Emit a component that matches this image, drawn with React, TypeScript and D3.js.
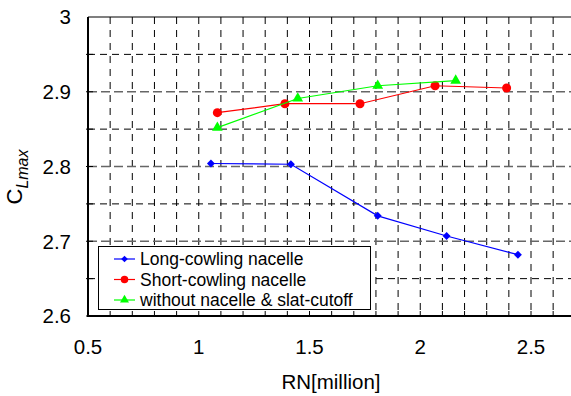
import React from "react";
import { scaleLinear, line, range, symbol, symbolDiamond2, symbolCircle, symbolTriangle } from "d3";

const longRN = [1.055, 1.416, 1.808, 2.119, 2.441];
const longCL = [2.804, 2.803, 2.734, 2.707, 2.682];
const shortRN = [1.084, 1.389, 1.728, 2.067, 2.39];
const shortCL = [2.872, 2.884, 2.884, 2.908, 2.905];
const noNacRN = [1.084, 1.447, 1.808, 2.16];
const noNacCL = [2.852, 2.891, 2.908, 2.915];

const xTicks = [0.5, 1, 1.5, 2, 2.5];
const yTicks = [2.6, 2.7, 2.8, 2.9, 3];

const series = [
  { name: "Long-cowling nacelle", x: longRN, y: longCL, color: "#0000ff", sym: symbolDiamond2, size: 40 },
  { name: "Short-cowling nacelle", x: shortRN, y: shortCL, color: "#ff0000", sym: symbolCircle, size: 64 },
  { name: "without nacelle & slat-cutoff", x: noNacRN, y: noNacCL, color: "#00ff00", sym: symbolTriangle, size: 50 },
];

const W = 571;
const H = 396;
const left = 88;
const top = 17;
const bottom = 316;

export default function App() {
  const x = scaleLinear().domain([0.5, 3]).range([left, left + 2.5 * 221.5]);
  const y = scaleLinear().domain([2.6, 3]).range([bottom, top]);
  const font = "Arial, 'Liberation Sans', sans-serif";

  const vGrid = range(6, 30).map((d) => d / 10);
  const minorH = [2.65, 2.75, 2.85, 2.95];
  const majorH = [2.7, 2.8, 2.9];
  const xMinor = range(5, 30).map((d) => d / 10);
  const yMinor = range(52, 60).map((d) => d / 20);

  const path = line<number>();

  return (
    <svg width={W} height={H} style={{ position: "absolute", left: 0, top: 0, background: "#fff" }}>
      {/* grid */}
      {vGrid.map((v) => (
        <line key={"v" + v} x1={x(v)} x2={x(v)} y1={top} y2={bottom} stroke="#000" strokeWidth={1} strokeDasharray="7,6" />
      ))}
      {minorH.map((v) => (
        <line key={"mh" + v} x1={left} x2={W} y1={y(v)} y2={y(v)} stroke="#000" strokeWidth={1} strokeDasharray="7,5" />
      ))}
      {majorH.map((v) => (
        <line key={"Mh" + v} x1={left} x2={W} y1={y(v)} y2={y(v)} stroke="#666" strokeWidth={1.3} strokeDasharray="9,4" />
      ))}

      {/* ticks */}
      {xMinor.map((v) => (
        <line key={"xt" + v} x1={x(v)} x2={x(v)} y1={bottom} y2={bottom - 5} stroke="#000" />
      ))}
      {yMinor.map((v) => (
        <line key={"yt" + v} x1={left - 2} x2={left + 5} y1={y(v)} y2={y(v)} stroke="#000" />
      ))}

      {/* frame */}
      <line x1={left} x2={W} y1={top} y2={top} stroke="#000" strokeWidth={1.2} />
      <line x1={left} x2={W} y1={bottom} y2={bottom} stroke="#000" strokeWidth={2} />
      <line x1={left} x2={left} y1={top} y2={bottom + 1} stroke="#000" strokeWidth={2} />

      {/* data */}
      {series.map((s) => {
        const pts = s.x.map((xv, i) => [x(xv), y(s.y[i])] as [number, number]);
        const sym = symbol().type(s.sym).size(s.size)();
        return (
          <g key={s.name}>
            <path d={path(pts) || ""} fill="none" stroke={s.color} strokeWidth={1.2} />
            {pts.map((p, i) => (
              <path key={i} d={sym || ""} transform={`translate(${p[0]},${p[1]})`} fill={s.color} />
            ))}
          </g>
        );
      })}

      {/* tick labels */}
      {yTicks.map((v) => (
        <text key={"yl" + v} x={71} y={y(v)} dy="0.36em" textAnchor="end" fontFamily={font} fontSize={20.5}>
          {v}
        </text>
      ))}
      {xTicks.map((v) => (
        <text key={"xl" + v} x={x(v)} y={354} textAnchor="middle" fontFamily={font} fontSize={20.5}>
          {v}
        </text>
      ))}

      {/* axis titles */}
      <text x={331} y={389} textAnchor="middle" fontFamily={font} fontSize={20.5}>
        RN[million]
      </text>
      <text transform="translate(22,177) rotate(-90)" textAnchor="middle" fontFamily={font} fontSize={22}>
        C
        <tspan fontSize={16} fontStyle="italic" dy={6}>
          Lmax
        </tspan>
      </text>

      {/* legend */}
      <g>
        <rect x={98.5} y={246.5} width={272} height={63} fill="#fff" stroke="#000" strokeWidth={1} />
        {series.map((s, i) => {
          const ly = 259 + i * 20.5;
          const sym = symbol().type(s.sym).size(s.size * 0.7)();
          return (
            <g key={"lg" + i}>
              <line x1={114} x2={135} y1={ly} y2={ly} stroke={s.color} strokeWidth={1.2} />
              <path d={sym || ""} transform={`translate(124.5,${ly})`} fill={s.color} />
              <text x={140} y={ly} dy="0.36em" fontFamily={font} fontSize={17.5}>
                {s.name}
              </text>
            </g>
          );
        })}
      </g>
    </svg>
  );
}
